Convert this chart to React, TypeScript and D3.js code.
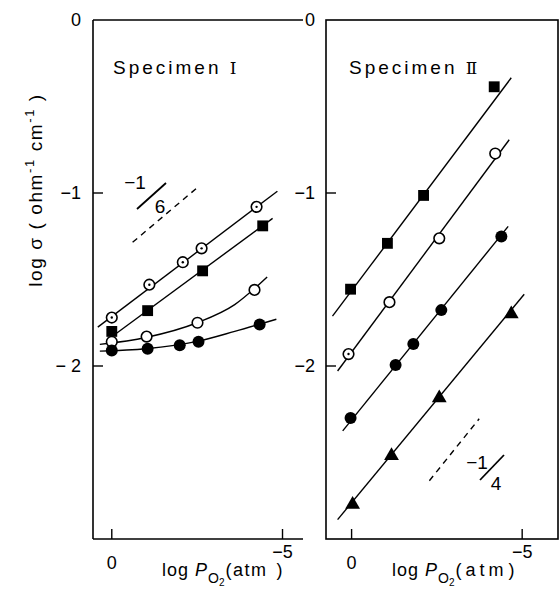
import React from 'react';
import * as d3 from 'd3';

type Pt = [number, number];

// axis ticks
const xTicks = [0, -5];
const xTickLabels = ['0', '−5'];
const yTicks = [0, -1, -2];
const yTickLabelsI = ['0', '−1', '− 2'];
const yTickLabelsII = ['0', '−1', '−2'];

// Specimen I (log PO2, log sigma)
const s1Dotted: Pt[] = [[0, -1.72], [-1.1, -1.53], [-2.08, -1.4], [-2.63, -1.32], [-4.24, -1.08]];
const s1Square: Pt[] = [[0, -1.8], [-1.05, -1.68], [-2.66, -1.45], [-4.42, -1.19]];
const s1Open: Pt[] = [[0, -1.86], [-1.02, -1.83], [-2.51, -1.75], [-4.18, -1.56]];
const s1Filled: Pt[] = [[0, -1.91], [-1.05, -1.9], [-1.99, -1.88], [-2.54, -1.86], [-4.33, -1.76]];
const s1DottedFit: Pt[] = [[0.41, -1.775], [-4.85, -0.99]];
const s1SquareFit: Pt[] = [[0.03, -1.835], [-4.71, -1.147]];
const s1OpenFit: Pt[] = [[0.35, -1.875], [-1.0, -1.835], [-2.5, -1.75], [-3.6, -1.645], [-4.55, -1.485]];
const s1FilledFit: Pt[] = [[0.35, -1.914], [-1.0, -1.9], [-2.5, -1.858], [-3.6, -1.8], [-4.82, -1.73]];
const s1Guide: Pt[] = [[-0.61, -1.285], [-2.51, -0.968]];

// Specimen II
const s2Square: Pt[] = [[0.03, -1.556], [-1.05, -1.291], [-2.11, -1.014], [-4.18, -0.386]];
const s2Open: Pt[] = [[0.09, -1.931], [-1.11, -1.631], [-2.57, -1.262], [-4.21, -0.772]];
const s2Filled: Pt[] = [[0.03, -2.3], [-1.29, -1.994], [-1.81, -1.873], [-2.63, -1.677], [-4.39, -1.251]];
const s2Triangle: Pt[] = [[-0.03, -2.795], [-1.17, -2.513], [-2.57, -2.179], [-4.68, -1.694]];
const s2SquareFit: Pt[] = [[0.56, -1.712], [-4.68, -0.334]];
const s2OpenFit: Pt[] = [[0.41, -2.029], [-4.62, -0.692]];
const s2FilledFit: Pt[] = [[0.26, -2.375], [-4.59, -1.193]];
const s2TriangleFit: Pt[] = [[0.41, -2.888], [-5.06, -1.585]];
const s2Guide: Pt[] = [[-2.28, -2.663], [-3.74, -2.305]];

const FONT = 'Liberation Sans, Arial, Helvetica, sans-serif';
const INK = '#000';

const y = d3.scaleLinear().domain([-3, 0]).range([539, 20]);
const xI = d3.scaleLinear().domain([0.55, -5.6]).range([93, 303]);
const xII = d3.scaleLinear().domain([0.75, -6.05]).range([326, 558]);

const sq = d3.symbol().type(d3.symbolSquare).size(118)()!;
const tri = d3.symbol().type(d3.symbolTriangle).size(95)()!;

function Marks({ data, x, kind }: { data: Pt[]; x: d3.ScaleLinear<number, number>; kind: string }) {
  return (
    <g>
      {data.map((d, i) => {
        const cx = x(d[0]);
        const cy = y(d[1]);
        if (kind === 'square') return <path key={i} d={sq} transform={`translate(${cx},${cy})`} fill={INK} />;
        if (kind === 'triangle') return <path key={i} d={tri} transform={`translate(${cx},${cy + 1})`} fill={INK} />;
        if (kind === 'filled') return <circle key={i} cx={cx} cy={cy} r={6} fill={INK} />;
        return (
          <g key={i}>
            <circle cx={cx} cy={cy} r={5.3} fill="#fff" stroke={INK} strokeWidth={1.6} />
            {kind === 'dotted' && <circle cx={cx} cy={cy} r={1.2} fill={INK} />}
          </g>
        );
      })}
    </g>
  );
}

function Fit({ data, x, curve, dashed }: { data: Pt[]; x: d3.ScaleLinear<number, number>; curve?: boolean; dashed?: boolean }) {
  const line = d3
    .line<Pt>()
    .x((d) => x(d[0]))
    .y((d) => y(d[1]))
    .curve(curve ? d3.curveMonotoneX : d3.curveLinear);
  return (
    <path
      d={line(data) ?? ''}
      fill="none"
      stroke={INK}
      strokeWidth={1.4}
      strokeDasharray={dashed ? '6 5' : undefined}
    />
  );
}

function XTitle({ x0, atmSpacing, gap }: { x0: number; atmSpacing: number; gap: number }) {
  return (
    <text x={x0} y={576} fontFamily={FONT} fontSize={18} letterSpacing={1}>
      log <tspan fontStyle="italic">P</tspan>
      <tspan dy={7} fontSize={14} letterSpacing={0}>O</tspan>
      <tspan dy={3} fontSize={10}>2</tspan>
      <tspan dy={-10} letterSpacing={atmSpacing}>(atm</tspan>
      <tspan dx={gap} letterSpacing={0}>)</tspan>
    </text>
  );
}

export default function App() {
  const tickLen = 10;
  return (
    <svg
      width={559}
      height={593}
      viewBox="0 0 559 593"
      style={{ position: 'absolute', left: 0, top: 0, background: '#fff' }}
    >
      <rect width={559} height={593} fill="#fff" />

      {/* frames */}
      <g stroke={INK} strokeWidth={1.6} fill="none">
        <line x1={93} x2={93} y1={y(0)} y2={y(-3)} />
        <line x1={93} x2={303} y1={y(0)} y2={y(0)} />
        <line x1={93} x2={303} y1={y(-3)} y2={y(-3)} />
        <rect x={326} y={y(0)} width={232} height={y(-3) - y(0)} />
      </g>

      {/* ticks */}
      <g stroke={INK} strokeWidth={1.4}>
        {yTicks.filter((t) => t !== 0).map((t) => (
          <g key={'yt' + t}>
            <line x1={93} x2={93 + tickLen} y1={y(t)} y2={y(t)} />
            <line x1={326} x2={326 + tickLen} y1={y(t)} y2={y(t)} />
          </g>
        ))}
        {xTicks.map((t) => (
          <g key={'xt' + t}>
            <line x1={xI(t)} x2={xI(t)} y1={y(-3)} y2={y(-3) - tickLen} />
            <line x1={xII(t)} x2={xII(t)} y1={y(-3)} y2={y(-3) - tickLen} />
          </g>
        ))}
      </g>

      <g fontFamily={FONT} fontSize={18} fill={INK}>
        {yTicks.map((t, i) => (
          <g key={'yl' + t}>
            <text x={81} y={y(t)} dy="0.35em" textAnchor="end">{yTickLabelsI[i]}</text>
            <text x={315} y={y(t)} dy="0.35em" textAnchor="end">{yTickLabelsII[i]}</text>
          </g>
        ))}
        {xTicks.map((t, i) => (
          <g key={'xl' + t}>
            <text x={xI(t)} y={i === 0 ? 569 : 558} textAnchor="middle">{xTickLabels[i]}</text>
            <text x={xII(t)} y={i === 0 ? 569 : 558} textAnchor="middle">{xTickLabels[i]}</text>
          </g>
        ))}
      </g>

      {/* titles */}
      <text x={113} y={74} fontFamily={FONT} fontSize={19} letterSpacing={3}>
        Specimen <tspan fontFamily="DejaVu Serif, serif" fontSize={17}>Ⅰ</tspan>
      </text>
      <text x={349} y={74} fontFamily={FONT} fontSize={19} letterSpacing={3}>
        Specimen <tspan fontFamily="DejaVu Serif, serif" fontSize={17}>Ⅱ</tspan>
      </text>

      <text
        transform="translate(42,190) rotate(-90)"
        textAnchor="middle"
        fontFamily={FONT}
        fontSize={19}
        letterSpacing={1.6}
      >
        log σ ( ohm<tspan dy={-8} fontSize={13}>-1</tspan>
        <tspan dy={8}> cm</tspan>
        <tspan dy={-8} fontSize={13}>-1</tspan>
        <tspan dy={8}> )</tspan>
      </text>

      <XTitle x0={162} atmSpacing={1.5} gap={9} />
      <XTitle x0={392} atmSpacing={4} gap={1} />

      {/* Specimen I data */}
      <Fit data={s1DottedFit} x={xI} />
      <Fit data={s1SquareFit} x={xI} />
      <Fit data={s1OpenFit} x={xI} curve />
      <Fit data={s1FilledFit} x={xI} curve />
      <Fit data={s1Guide} x={xI} dashed />
      <Marks data={s1Dotted} x={xI} kind="dotted" />
      <Marks data={s1Square} x={xI} kind="square" />
      <Marks data={s1Open} x={xI} kind="open" />
      <Marks data={s1Filled} x={xI} kind="filled" />

      {/* slope label -1/6 */}
      <g fontFamily={FONT} fontSize={19} fill={INK}>
        <text x={135} y={182} dy="0.35em" textAnchor="middle">−1</text>
        <line x1={137} y1={209} x2={166} y2={183} stroke={INK} strokeWidth={1.8} />
        <text x={160} y={206} dy="0.35em" textAnchor="middle">6</text>
      </g>

      {/* Specimen II data */}
      <Fit data={s2SquareFit} x={xII} />
      <Fit data={s2OpenFit} x={xII} />
      <Fit data={s2FilledFit} x={xII} />
      <Fit data={s2TriangleFit} x={xII} />
      <Fit data={s2Guide} x={xII} dashed />
      <Marks data={s2Square} x={xII} kind="square" />
      <Marks data={s2Open.slice(0, 1)} x={xII} kind="dotted" />
      <Marks data={s2Open.slice(1)} x={xII} kind="open" />
      <Marks data={s2Filled} x={xII} kind="filled" />
      <Marks data={s2Triangle} x={xII} kind="triangle" />

      {/* slope label -1/4 */}
      <g fontFamily={FONT} fontSize={19} fill={INK}>
        <text x={477} y={462} dy="0.35em" textAnchor="middle">−1</text>
        <line x1={480} y1={480} x2={504} y2={455} stroke={INK} strokeWidth={1.8} />
        <text x={496} y={483} dy="0.35em" textAnchor="middle">4</text>
      </g>
    </svg>
  );
}
